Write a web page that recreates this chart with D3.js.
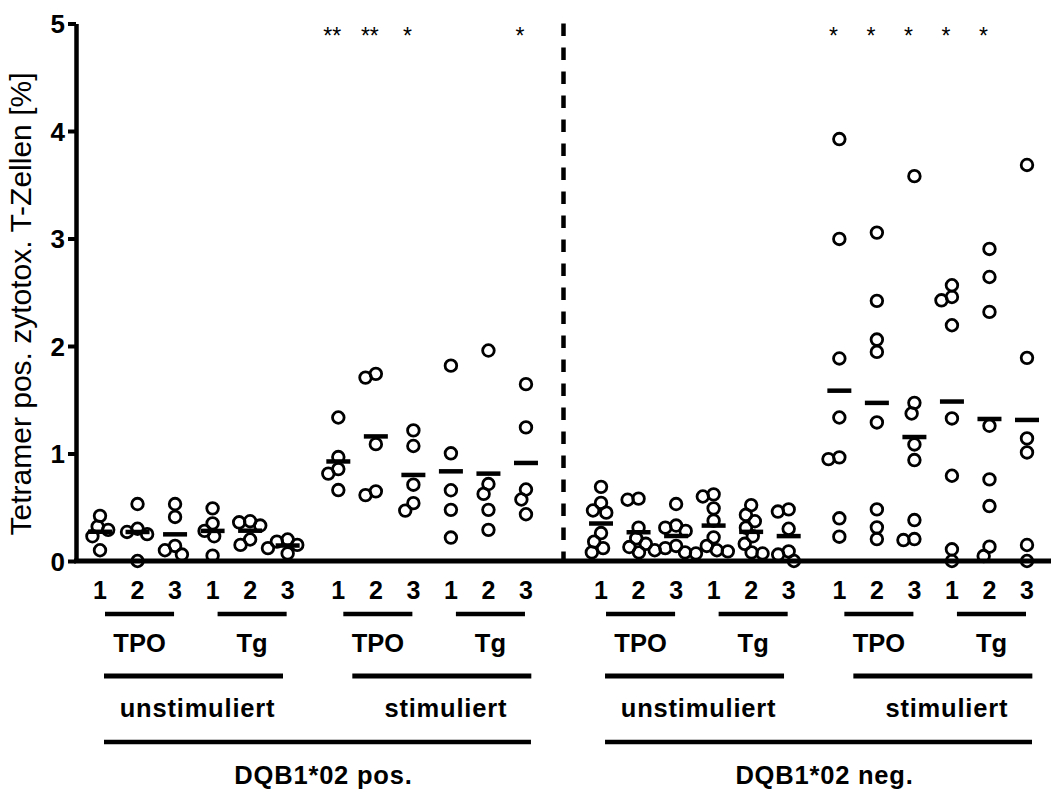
<!DOCTYPE html>
<html>
<head>
<meta charset="utf-8">
<script src="https://cdn.jsdelivr.net/npm/d3@7"></script>
<style>
  body { margin: 0; background: #fff; }
  svg { display: block; }
  text { font-family: "Liberation Sans", Arial, sans-serif; fill: #000; }
</style>
</head>
<body>
<svg id="chart" width="1051" height="790"></svg>
<script>
// ---- categories ----
const cohorts = ["DQB1*02 pos.", "DQB1*02 neg."];
const conditions = ["unstimuliert", "stimuliert"];
const antigens = ["TPO", "Tg"];
const peptides = ["1", "2", "3"];
const yTicks = [0, 1, 2, 3, 4, 5];

// ---- tetramer-positive cytotoxic T cells [%], one array per peptide 1-3 ----
const posUnstimTPO = [
  [0.42, 0.32, 0.29, 0.23, 0.10],
  [0.53, 0.30, 0.27, 0.25, 0.00],
  [0.53, 0.41, 0.14, 0.10, 0.06]
];
const posUnstimTg = [
  [0.49, 0.35, 0.28, 0.23, 0.05],
  [0.37, 0.36, 0.33, 0.20, 0.15],
  [0.20, 0.18, 0.15, 0.12, 0.07]
];
const posStimTPO = [
  [1.335, 0.967, 0.855, 0.813, 0.66],
  [1.741, 1.706, 1.087, 0.648, 0.613],
  [1.215, 1.07, 0.71, 0.538, 0.469]
];
const posStimTg = [
  [1.817, 1.002, 0.658, 0.476, 0.218],
  [1.958, 0.716, 0.624, 0.476, 0.29],
  [1.645, 1.243, 0.665, 0.572, 0.435]
];
const negUnstimTPO = [
  [0.69, 0.54, 0.47, 0.45, 0.26, 0.18, 0.12, 0.08],
  [0.58, 0.57, 0.31, 0.21, 0.16, 0.13, 0.10, 0.08],
  [0.53, 0.33, 0.31, 0.28, 0.14, 0.12, 0.08, 0.07]
];
const negUnstimTg = [
  [0.62, 0.60, 0.49, 0.375, 0.22, 0.14, 0.10, 0.09],
  [0.52, 0.43, 0.37, 0.31, 0.23, 0.16, 0.08, 0.07],
  [0.48, 0.46, 0.30, 0.09, 0.06, 0.00]
];
const negStimTPO = [
  [3.925, 2.996, 1.884, 1.335, 0.964, 0.948, 0.397, 0.226],
  [3.055, 2.42, 2.06, 1.945, 1.289, 0.48, 0.313, 0.204],
  [3.58, 1.471, 1.372, 1.084, 0.939, 0.381, 0.204, 0.195]
];
const negStimTg = [
  [2.565, 2.456, 2.425, 2.193, 1.326, 0.793, 0.109, 0.0],
  [2.903, 2.642, 2.317, 1.258, 0.759, 0.511, 0.133, 0.046],
  [3.684, 1.89, 1.14, 1.01, 0.149, 0.0]
];

// significance marks for the stimulated columns (TPO 1-3, Tg 1-3)
const posStimStars = ["**", "**", "*", "", "", "*"];
const negStimStars = ["*", "*", "*", "*", "*", ""];

// ---- assemble the 24 columns ----
const table = {
  "DQB1*02 pos.": { unstimuliert: { TPO: posUnstimTPO, Tg: posUnstimTg }, stimuliert: { TPO: posStimTPO, Tg: posStimTg } },
  "DQB1*02 neg.": { unstimuliert: { TPO: negUnstimTPO, Tg: negUnstimTg }, stimuliert: { TPO: negStimTPO, Tg: negStimTg } }
};
const starTable = { "DQB1*02 pos.": posStimStars, "DQB1*02 neg.": negStimStars };

const GROUP_GAP = 0.35;   // extra slot space between unstimulated and stimulated
const COHORT_GAP = 1;     // extra slot between the cohorts (holds the dashed divider)

const columns = [];
cohorts.forEach((co, ci) => {
  conditions.forEach((cond, ki) => {
    antigens.forEach((ag, ai) => {
      peptides.forEach((pep, pi) => {
        const within = ki * 6 + ai * 3 + pi;
        const slot = ci * (12 + GROUP_GAP + COHORT_GAP) + within + ki * GROUP_GAP;
        columns.push({
          cohort: co, condition: cond, antigen: ag, peptide: pep, slot,
          values: table[co][cond][ag][pi],
          star: cond === "stimuliert" ? starTable[co][ai * 3 + pi] : ""
        });
      });
    });
  });
});

// ---- scales ----
const svg = d3.select("#chart");
const axisX = 76;
const maxSlot = d3.max(columns, d => d.slot);
const x = d3.scaleLinear().domain([0, maxSlot]).range([100, 1027]);
const y = d3.scaleLinear().domain([0, 5]).range([561, 23.5]);

// ---- dashed cohort divider ----
const dividerX = x(11 + GROUP_GAP + COHORT_GAP);
svg.append("line")
  .attr("x1", dividerX).attr("x2", dividerX)
  .attr("y1", y(5)).attr("y2", y(0))
  .attr("stroke", "#000").attr("stroke-width", 4.5)
  .attr("stroke-dasharray", "12.5,11.5");

// ---- y axis ----
const yAxis = svg.append("g")
  .attr("transform", `translate(${axisX},0)`)
  .call(d3.axisLeft(y).tickValues(yTicks).tickSize(8).tickSizeOuter(0).tickPadding(3).tickFormat(d3.format("d")));
yAxis.select(".domain").attr("stroke", "#000").attr("stroke-width", 4.5);
yAxis.selectAll(".tick line").attr("stroke", "#000").attr("stroke-width", 4);
yAxis.selectAll(".tick text")
  .attr("font-family", "Liberation Sans, Arial, sans-serif")
  .attr("font-size", 26).attr("font-weight", "bold").attr("fill", "#000")
  .attr("dy", "0.36em");

// x baseline
svg.append("line")
  .attr("x1", axisX - 2).attr("x2", 1051)
  .attr("y1", y(0)).attr("y2", y(0))
  .attr("stroke", "#000").attr("stroke-width", 5);

// y title
svg.append("text")
  .attr("transform", "translate(31,304) rotate(-90)")
  .attr("text-anchor", "middle")
  .attr("font-size", 30)
  .text("Tetramer pos. zytotox. T-Zellen [%]");

// ---- scatter layout: dodge points that would overlap ----
const R = 5.8;
function dodge(vals, D) {
  const order = vals.map((v, i) => i).sort((a, b) => vals[b] - vals[a]);
  const placed = [];
  const out = new Array(vals.length);
  for (const i of order) {
    const py = y(vals[i]);
    const iv = [];
    for (const p of placed) {
      const dy = Math.abs(p.y - py);
      if (dy < D) {
        const w = Math.sqrt(D * D - dy * dy);
        iv.push([p.x - w, p.x + w]);
      }
    }
    const cands = [0].concat(iv.flat()).sort((a, b) => Math.abs(a) - Math.abs(b) || a - b);
    let xo = 0;
    for (const c of cands) {
      if (iv.every(([lo, hi]) => c <= lo + 1e-6 || c >= hi - 1e-6)) { xo = c; break; }
    }
    placed.push({ x: xo, y: py });
    out[i] = xo;
  }
  return out;
}

const colG = svg.append("g").selectAll("g").data(columns).join("g")
  .attr("transform", d => `translate(${x(d.slot)},0)`);

// mean bars
colG.append("line")
  .attr("x1", -12).attr("x2", 12)
  .attr("y1", d => y(d3.mean(d.values))).attr("y2", d => y(d3.mean(d.values)))
  .attr("stroke", "#000").attr("stroke-width", 4.5);

// individual values
colG.each(function (d) {
  const offs = dodge(d.values, 11);
  d3.select(this).selectAll("circle")
    .data(d.values.map((v, i) => ({ v, dx: offs[i] })))
    .join("circle")
    .attr("cx", p => p.dx)
    .attr("cy", p => y(p.v))
    .attr("r", R)
    .attr("fill", "none")
    .attr("stroke", "#000")
    .attr("stroke-width", 2.8);
});

// significance stars
colG.filter(d => d.star).append("text")
  .attr("x", -6).attr("y", 44)
  .attr("text-anchor", "middle")
  .attr("font-size", 23)
  .attr("fill", "#1a1a1a")
  .text(d => d.star);

// peptide labels
colG.append("text")
  .attr("y", 599)
  .attr("text-anchor", "middle")
  .attr("font-size", 25).attr("font-weight", "bold")
  .text(d => d.peptide);

// ---- grouping brackets ----
const lineY = { antigen: 614, condition: 676, cohort: 742 };
const bracketG = svg.append("g");
const labelFont = sel => sel.attr("text-anchor", "middle").attr("font-size", 25.5).attr("font-weight", "bold");

// antigen brackets
const antigenGroups = d3.groups(columns, d => d.cohort + d.condition + d.antigen).map(([, cols]) => cols);
antigenGroups.forEach(cols => {
  const x0 = x(cols[0].slot) + 5, x1 = x(cols[cols.length - 1].slot) - 1;
  bracketG.append("line").attr("x1", x0).attr("x2", x1).attr("y1", lineY.antigen).attr("y2", lineY.antigen)
    .attr("stroke", "#000").attr("stroke-width", 4.3);
  bracketG.append("text").attr("x", (x0 + x1) / 2).attr("y", 652).call(labelFont)
    .text(cols[0].antigen);
});

// condition brackets
const condGroups = d3.groups(columns, d => d.cohort + d.condition).map(([, cols]) => cols);
condGroups.forEach(cols => {
  const shift = cols[0].condition === "stimuliert" ? 14 : 4;
  const x0 = x(cols[0].slot) + shift, x1 = x0 + 179;
  bracketG.append("line").attr("x1", x0).attr("x2", x1).attr("y1", lineY.condition).attr("y2", lineY.condition)
    .attr("stroke", "#000").attr("stroke-width", 5);
  bracketG.append("text").attr("x", (x0 + x1) / 2 + 4).attr("y", 717).call(labelFont)
    .attr("letter-spacing", 0.8)
    .text(cols[0].condition);
});

// cohort brackets
const cohortGroups = d3.groups(columns, d => d.cohort).map(([, cols]) => cols);
cohortGroups.forEach(cols => {
  const x0 = x(cols[0].slot) + 4, x1 = x(cols[cols.length - 1].slot) + 5;
  bracketG.append("line").attr("x1", x0).attr("x2", x1).attr("y1", lineY.cohort).attr("y2", lineY.cohort)
    .attr("stroke", "#000").attr("stroke-width", 4.5);
  bracketG.append("text").attr("x", (x0 + x1) / 2 + 6).attr("y", 784).call(labelFont)
    .attr("letter-spacing", 0.8)
    .text(cols[0].cohort);
});
</script>
</body>
</html>
